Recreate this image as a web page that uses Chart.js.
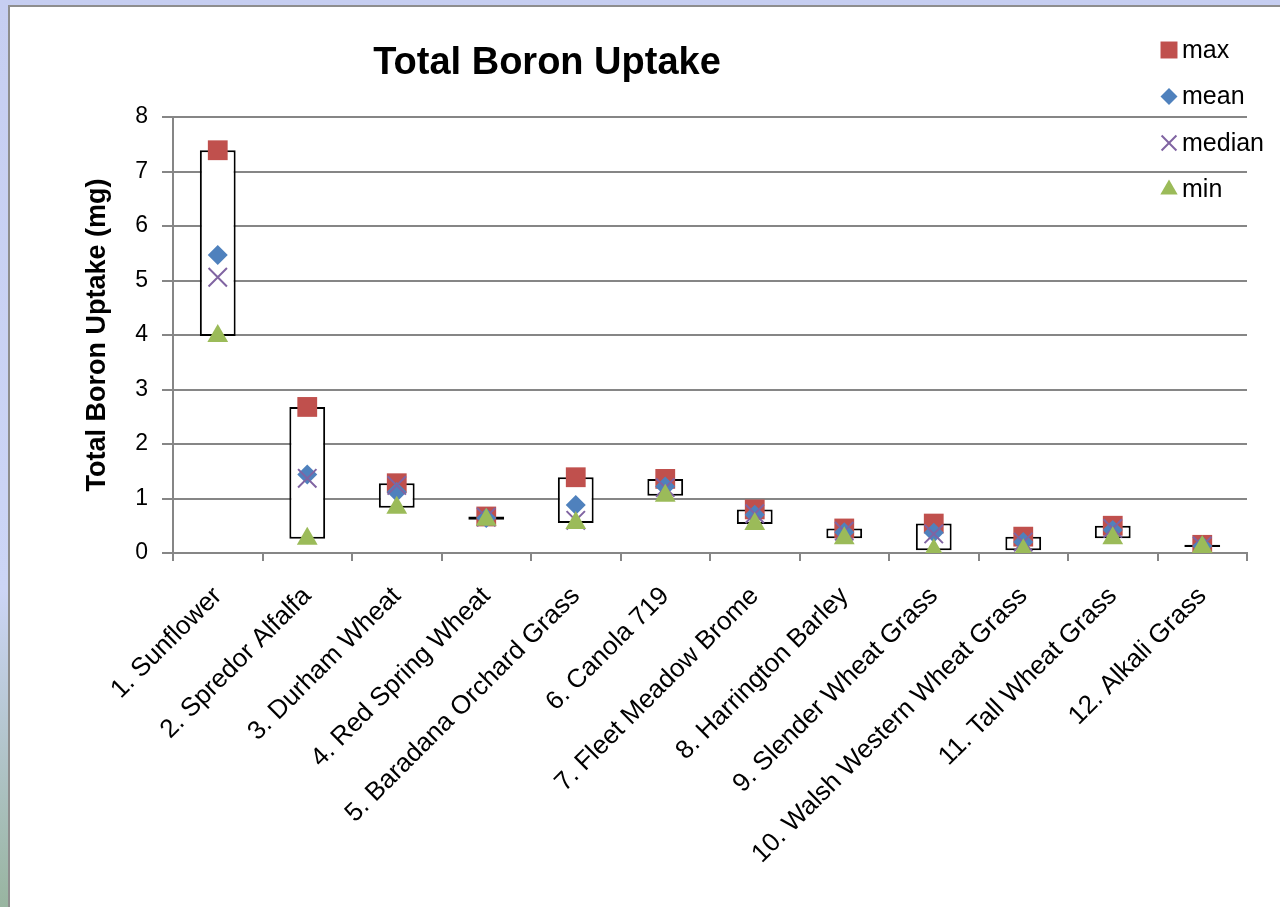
<!DOCTYPE html>
<html>
<head>
<meta charset="utf-8">
<script src="https://cdn.jsdelivr.net/npm/chart.js@4.4.1/dist/chart.umd.min.js"></script>
<style>
  html, body { margin: 0; padding: 0; }
  body {
    width: 1280px; height: 907px; overflow: hidden;
    background: linear-gradient(to bottom, #c6cef1 0%, #ccd5f6 65%, #98b5a0 100%);
  }
  #quadro {
    position: absolute; left: 8px; top: 5px;
    border-left: 2px solid #8e8e8e; border-top: 2px solid #8e8e8e;
    background: #fff;
  }
  canvas { display: block; }
</style>
</head>
<body>
<div id="quadro"><canvas id="grafico" width="1270" height="900"></canvas></div>
<script>
const titulo = 'Total Boron Uptake';
const tituloEixoY = 'Total Boron Uptake (mg)';

const culturas = [
  '1. Sunflower', '2. Spredor Alfalfa', '3. Durham Wheat', '4. Red Spring Wheat',
  '5. Baradana Orchard Grass', '6. Canola 719', '7. Fleet Meadow Brome', '8. Harrington Barley',
  '9. Slender Wheat Grass', '10. Walsh Western Wheat Grass', '11. Tall Wheat Grass', '12. Alkali Grass'
];

const valoresMax     = [7.39, 2.68, 1.28, 0.67, 1.39, 1.36, 0.80, 0.45, 0.54, 0.30, 0.50, 0.15];
const valoresMedia   = [5.47, 1.44, 1.12, 0.64, 0.88, 1.22, 0.70, 0.38, 0.37, 0.20, 0.42, 0.13];
const valoresMediana = [5.06, 1.37, 1.24, 0.66, 0.60, 1.20, 0.72, 0.40, 0.35, 0.20, 0.45, 0.13];
const valoresMin     = [3.98, 0.26, 0.83, 0.61, 0.55, 1.05, 0.53, 0.27, 0.05, 0.05, 0.27, 0.11];

const ticksY = [0, 1, 2, 3, 4, 5, 6, 7, 8];

const fonte = '"Liberation Sans", Arial, sans-serif';

// caixa min..max como barra flutuante
const caixas = valoresMin.map((v, i) => [v, valoresMax[i]]);

function pontos(label, data, estilo, raio, cor, ordem, espessura) {
  return {
    type: 'line', label, data, order: ordem,
    showLine: false,
    pointStyle: estilo, pointRadius: raio, pointHoverRadius: raio,
    backgroundColor: cor, borderColor: cor,
    pointBorderWidth: espessura || 0
  };
}

const series = [
  pontos('max', valoresMax, 'rect', 14, '#c0504d', 4),
  pontos('mean', valoresMedia, 'rectRot', 10, '#4f81bd', 3),
  pontos('median', valoresMediana, 'crossRot', 13, '#8064a2', 2, 2),
  pontos('min', valoresMin, 'triangle', 12, '#9bbb59', 1)
];

// tamanhos dos marcadores na legenda
const legendaRaios = [12, 8.5, 10.5, 10];

const tituloLegenda = {
  id: 'tituloLegenda',
  afterDraw(chart) {
    const ctx = chart.ctx;
    ctx.save();
    ctx.fillStyle = '#000';
    ctx.font = 'bold 38px ' + fonte;
    ctx.textAlign = 'center';
    ctx.textBaseline = 'middle';
    ctx.fillText(titulo, 537, 57);

    ctx.font = '25px ' + fonte;
    ctx.textAlign = 'left';
    series.forEach((s, i) => {
      const y = 43 + i * 46.5;
      ctx.fillStyle = s.backgroundColor;
      ctx.strokeStyle = s.borderColor;
      ctx.lineWidth = s.pointBorderWidth || 0.01;
      Chart.helpers.drawPoint(ctx, {
        pointStyle: s.pointStyle, radius: legendaRaios[i], rotation: 0,
        borderWidth: s.pointBorderWidth
      }, 1159, y);
      ctx.fillStyle = '#000';
      ctx.fillText(s.label, 1172, y + 1);
    });
    ctx.restore();
  }
};

new Chart(document.getElementById('grafico').getContext('2d'), {
  type: 'bar',
  data: {
    labels: culturas,
    datasets: [
      {
        label: 'range', data: caixas, order: 5,
        backgroundColor: '#ffffff', borderColor: '#000000', borderWidth: 2,
        borderSkipped: false,
        barPercentage: 0.4, categoryPercentage: 1
      },
      ...series
    ]
  },
  options: {
    responsive: false,
    animation: false,
    devicePixelRatio: 1,
    layout: { padding: { top: 110, right: 33, left: 0, bottom: 0 } },
    plugins: {
      legend: { display: false },
      title: { display: false },
      tooltip: { enabled: false }
    },
    scales: {
      x: {
        afterFit(scale) { scale.height = 354; },
        grid: { display: true, drawOnChartArea: false, offset: true, tickLength: 8, color: '#868686', lineWidth: 2 },
        border: { color: '#868686', width: 2 },
        ticks: {
          autoSkip: false, minRotation: 45, maxRotation: 45,
          color: '#000', padding: 20,
          font: { family: fonte, size: 26 }
        }
      },
      y: {
        min: 0, max: 8,
        afterFit(scale) { scale.width = 163; },
        afterBuildTicks(scale) { scale.ticks = ticksY.map(v => ({ value: v })); },
        grid: { color: '#868686', lineWidth: 2, tickLength: 11 },
        border: { color: '#868686', width: 2 },
        ticks: {
          color: '#000', padding: 14,
          font: { family: fonte, size: 23 }
        },
        title: {
          display: true, text: tituloEixoY, color: '#000',
          font: { family: fonte, size: 27, weight: 'bold' },
          padding: { top: 71, bottom: 0 }
        }
      }
    }
  },
  plugins: [tituloLegenda]
});
</script>
</body>
</html>
